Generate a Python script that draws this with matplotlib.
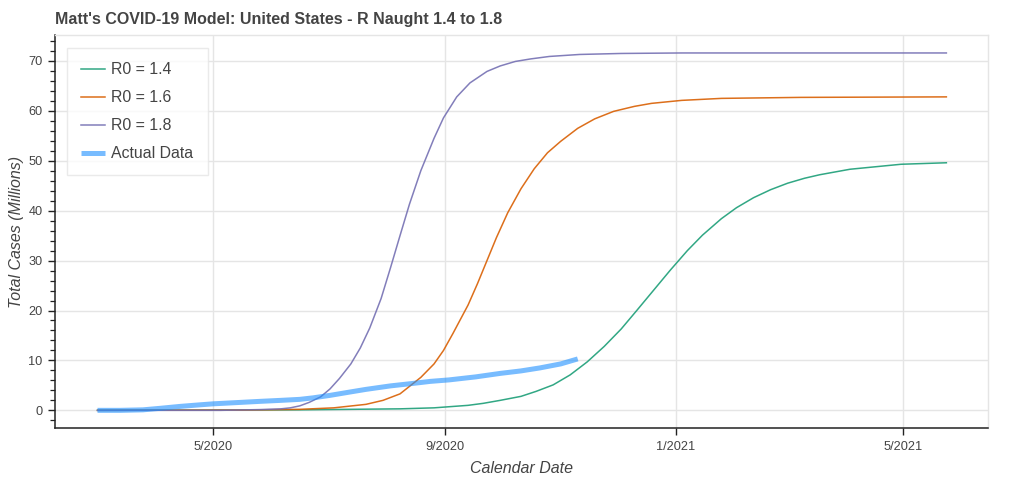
import matplotlib.pyplot as plt
import numpy as np

plt.rcParams['font.family'] = ['Liberation Sans', 'DejaVu Sans']

# model curves (millions of total cases)
r14_dates = ['2020-03-01', '2020-06-16', '2020-08-08', '2020-08-26', '2020-09-13',
             '2020-09-21', '2020-09-30', '2020-10-11', '2020-10-19', '2020-10-28',
             '2020-11-06', '2020-11-15', '2020-11-24', '2020-12-03', '2020-12-11',
             '2020-12-20', '2020-12-29', '2021-01-07', '2021-01-15', '2021-01-25',
             '2021-02-02', '2021-02-11', '2021-02-20', '2021-03-01', '2021-03-10',
             '2021-03-18', '2021-04-03', '2021-04-30', '2021-05-24']
r14_vals = [0.0, 0.1, 0.3, 0.5, 1.0, 1.4, 2.0, 2.8, 3.8, 5.1,
            7.1, 9.7, 12.8, 16.3, 19.9, 24.0, 28.1, 32.0, 35.1, 38.4,
            40.6, 42.6, 44.2, 45.5, 46.5, 47.2, 48.3, 49.3, 49.6]

r16_dates = ['2020-03-01', '2020-05-15', '2020-06-16', '2020-07-04', '2020-07-21',
             '2020-07-30', '2020-08-08', '2020-08-13', '2020-08-19', '2020-08-26',
             '2020-08-31', '2020-09-05', '2020-09-13', '2020-09-18', '2020-09-23',
             '2020-09-28', '2020-10-04', '2020-10-11', '2020-10-18', '2020-10-25',
             '2020-11-01', '2020-11-10', '2020-11-19', '2020-11-29', '2020-12-10',
             '2020-12-19', '2021-01-04', '2021-01-25', '2021-03-08', '2021-05-24']
r16_vals = [0.0, 0.05, 0.2, 0.5, 1.2, 2.0, 3.3, 4.8, 6.6, 9.3,
            12.0, 15.4, 21.1, 25.4, 30.0, 34.6, 39.6, 44.4, 48.4, 51.6,
            53.9, 56.5, 58.4, 59.9, 60.9, 61.5, 62.1, 62.5, 62.7, 62.8]

r18_dates = ['2020-03-01', '2020-05-05', '2020-05-26', '2020-06-06', '2020-06-11',
             '2020-06-16', '2020-06-21', '2020-06-27', '2020-07-02', '2020-07-07',
             '2020-07-13', '2020-07-18', '2020-07-23', '2020-07-29', '2020-08-03',
             '2020-08-08', '2020-08-13', '2020-08-19', '2020-08-26', '2020-08-31',
             '2020-09-07', '2020-09-14', '2020-09-23', '2020-09-30', '2020-10-08',
             '2020-10-16', '2020-10-26', '2020-11-11', '2020-12-03', '2021-01-04',
             '2021-05-24']
r18_vals = [0.0, 0.0, 0.15, 0.3, 0.5, 0.9, 1.6, 2.7, 4.3, 6.4,
            9.3, 12.5, 16.5, 22.4, 28.6, 35.0, 41.3, 48.0, 54.5, 58.6,
            62.8, 65.6, 67.9, 69.0, 69.9, 70.4, 70.9, 71.3, 71.5, 71.6,
            71.6]

actual_dates = ['2020-03-01', '2020-03-13', '2020-03-25', '2020-04-03', '2020-04-14',
                '2020-04-24', '2020-05-01', '2020-05-16', '2020-05-26', '2020-06-06',
                '2020-06-16', '2020-06-23', '2020-07-02', '2020-07-13', '2020-07-21',
                '2020-08-03', '2020-08-15', '2020-08-24', '2020-09-03', '2020-09-17',
                '2020-09-30', '2020-10-11', '2020-10-21', '2020-11-01', '2020-11-10']
actual_vals = [0.0, 0.0, 0.1, 0.4, 0.8, 1.1, 1.3, 1.6, 1.8, 2.0,
               2.2, 2.5, 3.0, 3.7, 4.2, 4.9, 5.4, 5.8, 6.1, 6.7,
               7.4, 7.9, 8.5, 9.3, 10.3]

tick_dates = ['2020-05-01', '2020-09-01', '2021-01-01', '2021-05-01']
tick_labels = ['5/2020', '9/2020', '1/2021', '5/2021']

txt = '#444444'
grid = '#e5e5e5'

fig = plt.figure(figsize=(10.24, 4.82), dpi=100)
ax = fig.add_axes([0.0537, 0.1114, 0.9111, 0.8160])

def d(lst):
    return np.array(lst, dtype='datetime64[D]')

ax.plot(d(r14_dates), r14_vals, color='#1b9e77', lw=1.1, alpha=0.9, label='R0 = 1.4')
ax.plot(d(r16_dates), r16_vals, color='#d95f02', lw=1.1, alpha=0.9, label='R0 = 1.6')
ax.plot(d(r18_dates), r18_vals, color='#7570b3', lw=1.1, alpha=0.9, label='R0 = 1.8')
ax.plot(d(actual_dates), actual_vals, color='#1e90ff', lw=3.6, alpha=0.6,
        solid_capstyle='butt', solid_joinstyle='round', label='Actual Data')

ax.set_xlim(np.datetime64('2020-02-07T12:00'), np.datetime64('2021-06-15'))
ax.set_ylim(-3.6, 75.2)

ax.set_xticks(d(tick_dates))
ax.set_xticklabels(tick_labels)
ax.set_yticks(np.arange(0, 71, 10))
ax.set_yticks(np.arange(-2, 75, 2), minor=True)
ax.xaxis.set_minor_locator(plt.NullLocator())

ax.grid(True, which='major', color=grid, lw=1.0)
ax.set_axisbelow(True)

for s in ['top', 'right']:
    ax.spines[s].set_color(grid)
    ax.spines[s].set_linewidth(1.0)
for s in ['left', 'bottom']:
    ax.spines[s].set_color('#222222')
    ax.spines[s].set_linewidth(1.1)

ax.tick_params(axis='both', which='major', direction='out', length=5, width=1.0,
               color='#222222', labelcolor=txt, labelsize=9.2, pad=4)
ax.tick_params(axis='y', which='minor', direction='out', length=3.5, width=0.9,
               color='#222222')

ax.set_xlabel('Calendar Date', fontsize=11.5, style='italic', color=txt, labelpad=6)
ax.set_ylabel('Total Cases (Millions)', fontsize=11.5, style='italic', color=txt, labelpad=3)
ax.set_title("Matt's COVID-19 Model: United States - R Naught 1.4 to 1.8",
             loc='left', fontsize=11.5, fontweight='bold', color=txt, pad=8)

leg = ax.legend(loc='upper left', bbox_to_anchor=(0.0129, 0.9670), borderaxespad=0,
                fontsize=11.4, frameon=True, fancybox=False, edgecolor=grid,
                handlelength=1.5, handletextpad=0.4, labelspacing=0.82,
                borderpad=0.9)
leg.get_frame().set_linewidth(1.0)
for t in leg.get_texts():
    t.set_color(txt)

fig.savefig('out.png', dpi=100)
